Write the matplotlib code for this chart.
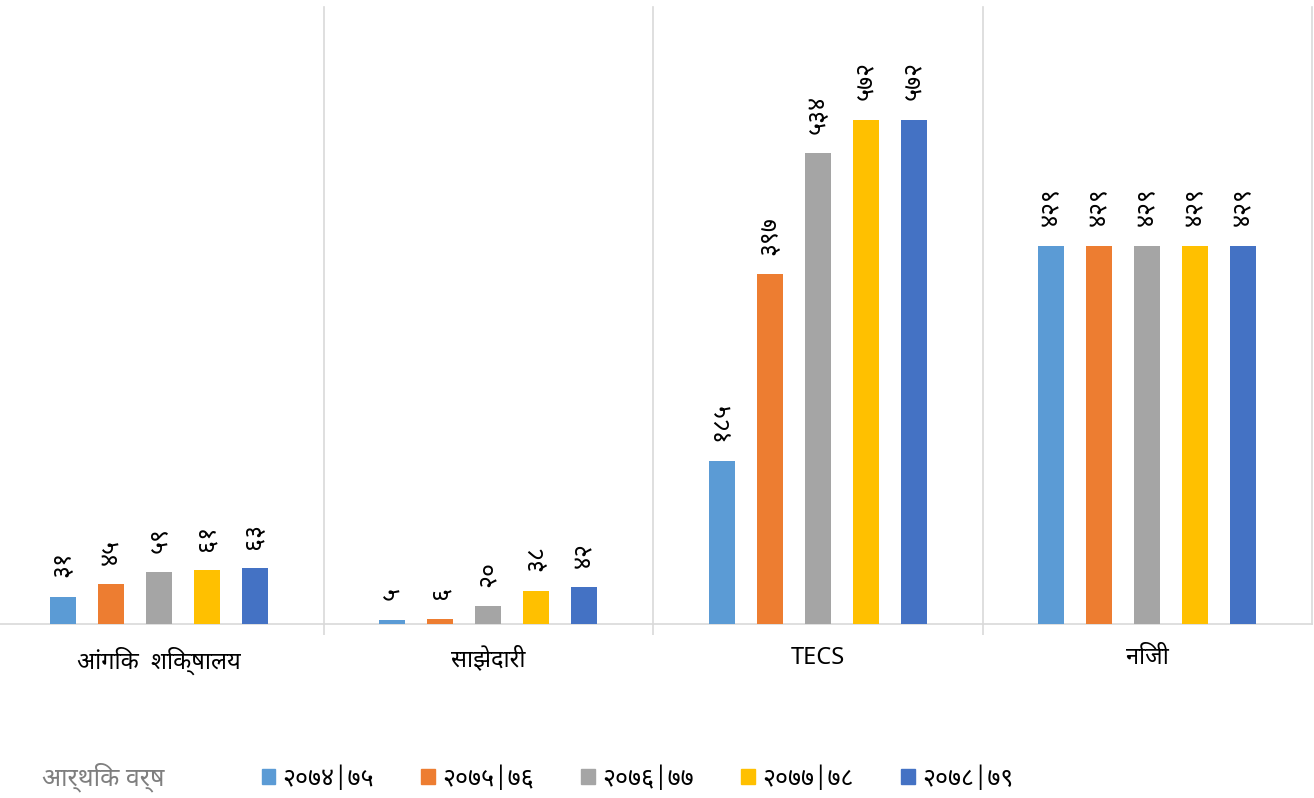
import matplotlib.pyplot as plt
from matplotlib import font_manager
from matplotlib.ft2font import FT2Font
from matplotlib.patches import Patch
import numpy as np

# categories and values
categories = ["आंगिक  शिक्षालय", "साझेदारी", "TECS", "निजी"]
years = ["२०७४|७५", "२०७५|७६", "२०७६|७७", "२०७७|७८", "२०७८|७९"]
v_7475 = [31, 5, 185, 429]
v_7576 = [45, 6, 397, 429]
v_7677 = [59, 20, 534, 429]
v_7778 = [61, 38, 572, 429]
v_7879 = [63, 42, 572, 429]
series = [v_7475, v_7576, v_7677, v_7778, v_7879]
colors = ["#5B9BD5", "#ED7D31", "#A5A5A5", "#FFC000", "#4472C4"]

legend_title = "आर्थिक वर्ष"
nep_digits = str.maketrans("0123456789", "०१२३४५६७८९")


# pick an installed font that has Devanagari glyphs
def find_deva_font():
    installed = {f.name for f in font_manager.fontManager.ttflist}
    for name in ["Noto Sans Devanagari", "Hind", "Mukta", "Anek Devanagari", "FreeSans"]:
        if name in installed:
            return name
    for f in font_manager.fontManager.ttflist:
        try:
            cmap = FT2Font(f.fname).get_charmap()
        except Exception:
            continue
        if 0x0915 in cmap and 0x0967 in cmap:
            return f.name
    return None


deva = find_deva_font()
families = ([deva] if deva else []) + ["DejaVu Sans"]
plt.rcParams["font.family"] = families

fig = plt.figure(figsize=(13.14, 7.98), dpi=100)
ax = fig.add_axes([0, 1 - 624 / 798, 1312 / 1314, (624 - 7) / 798])

x = np.arange(len(categories))
step = 0.1456
width = 0.079
for i, vals in enumerate(series):
    bars = ax.bar(x + (i - 2) * step, vals, width, color=colors[i], label=years[i], zorder=3)
    ax.bar_label(bars, labels=[str(v).translate(nep_digits) for v in vals],
                 rotation=90, padding=14, fontsize=18, color="black")

ax.set_ylim(0, 700)
ax.set_xlim(-0.5 + 5.8 / 329.7, 3.5)
ax.set_yticks([])
for s in ["top", "left", "right"]:
    ax.spines[s].set_visible(False)
ax.spines["bottom"].set_color("#d9d9d9")
ax.spines["bottom"].set_linewidth(1.2)

for sep in [0.5, 1.5, 2.5, 3.5]:
    ax.axvline(sep, color="#d9d9d9", lw=1.2, zorder=1, clip_on=False)

ax.set_xticks(x)
ax.set_xticklabels(categories, fontsize=17)
ax.tick_params(axis="x", which="major", length=0, pad=16)
ax.set_xticks([0.5, 1.5, 2.5], minor=True)
ax.tick_params(axis="x", which="minor", length=8, color="#d9d9d9", width=1.2)

fig.text(42 / 1314, 1 - 777 / 798, legend_title, fontsize=18, color="#7f7f7f",
         va="center", ha="left")
handles = [Patch(color=c) for c in colors]
fig.legend(handles, years, loc="center left", bbox_to_anchor=(239 / 1314, 1 - 779 / 798),
           ncol=5, frameon=False, fontsize=18, handlelength=0.55, handleheight=0.55,
           handletextpad=0.3, columnspacing=1.88)

fig.savefig("out.png", dpi=100)
